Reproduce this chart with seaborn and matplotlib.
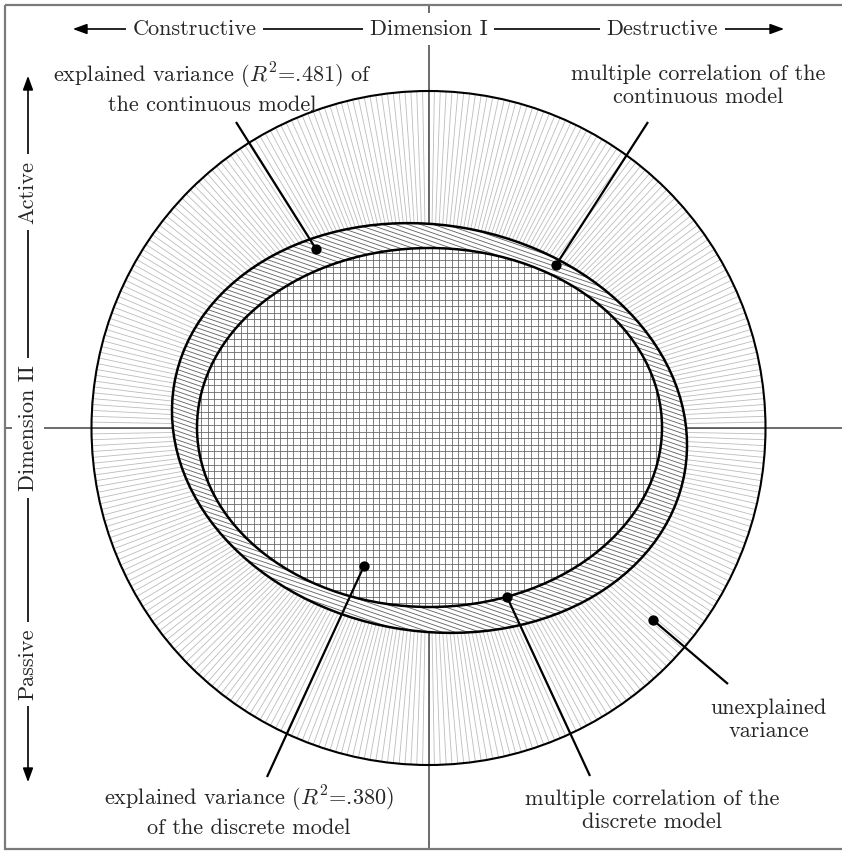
import numpy as np
import matplotlib
matplotlib.use("Agg")
import matplotlib.pyplot as plt
import seaborn as sns
from matplotlib.patches import Circle, Ellipse, Rectangle, FancyArrowPatch
from matplotlib.collections import LineCollection

# ---------------- data ----------------
r2_values = [0.481, 0.380]                     # continuous, discrete
circle_center = [428.5, 428.0]
circle_radius = 337.0
ell_centers = [[429.5, 428.0], [429.5, 427.5]]  # outer (continuous), inner (discrete)
ell_widths = [518.0, 465.0]
ell_heights = [406.0, 359.0]
ell_angles = [9.9, 0.0]
dot_x = [316.0, 556.0, 653.0, 364.0, 507.0]
dot_y = [249.0, 265.0, 620.0, 566.0, 597.0]
lead_x = [236.0, 648.0, 728.0, 267.0, 590.0]
lead_y = [122.0, 122.0, 684.0, 777.0, 776.0]
r2_txt = [f"{v:.3f}"[1:] for v in r2_values]
labels = [
    "explained variance ($R^2$=%s) of\nthe continuous model" % r2_txt[0],
    "multiple correlation of the\ncontinuous model",
    "unexplained\nvariance",
    "explained variance ($R^2$=%s)\nof the discrete model" % r2_txt[1],
    "multiple correlation of the\ndiscrete model",
]
label_x = [212.0, 698.0, 769.0, 249.0, 652.0]
label_y = [88.0, 86.0, 720.0, 811.0, 811.0]
dim1_labels = ["Constructive", "Dimension I", "Destructive"]
dim2_labels = ["Active", "Dimension II", "Passive"]

# ---------------- style ----------------
sns.set_theme(style="white")
plt.rcParams["font.family"] = ["cmr10", "DejaVu Serif"]
plt.rcParams["mathtext.fontset"] = "cm"
plt.rcParams["axes.unicode_minus"] = False
FS = 16

fig = plt.figure(figsize=(8.42, 8.51), dpi=100)
ax = fig.add_axes([0, 0, 1, 1])
ax.set_xlim(0, 842)
ax.set_ylim(851, 0)
ax.axis("off")

cx, cy = circle_center

# radial lines in outer circle
circ_clip = Circle((cx, cy), circle_radius, fc="none", ec="none")
ax.add_patch(circ_clip)
angs = np.deg2rad(np.arange(0, 360, 1.0))
segs = [[(cx, cy), (cx + (circle_radius + 5) * np.cos(a), cy + (circle_radius + 5) * np.sin(a))] for a in angs]
lc = LineCollection(segs, colors="#bcbcbc", linewidths=0.6, zorder=1)
ax.add_collection(lc)
lc.set_clip_path(circ_clip)

# axis cross lines
ax.plot([cx, cx], [5, 849], color="#444444", lw=1.1, zorder=2)
ax.plot([5, 842], [cy, cy], color="#444444", lw=1.1, zorder=2)

# outer circle edge
ax.add_patch(Circle((cx, cy), circle_radius, fc="none", ec="black", lw=1.5, zorder=3))

# outer ellipse (continuous model): white fill + diagonal hatching
e_out = Ellipse(ell_centers[0], ell_widths[0], ell_heights[0], angle=ell_angles[0],
                fc="white", ec="none", zorder=4)
ax.add_patch(e_out)
slope = np.tan(np.deg2rad(19))
hsegs = []
for c in np.arange(-400, 1100, 4.4):
    hsegs.append([(0, c), (842, c + slope * 842)])
hl = LineCollection(hsegs, colors="#5e5e5e", linewidths=0.6, zorder=5)
ax.add_collection(hl)
hl.set_clip_path(e_out)
ax.add_patch(Ellipse(ell_centers[0], ell_widths[0], ell_heights[0], angle=ell_angles[0],
                     fc="none", ec="black", lw=1.8, zorder=8))

# inner ellipse (discrete model): white fill + grid
e_in = Ellipse(ell_centers[1], ell_widths[1], ell_heights[1], angle=ell_angles[1],
               fc="white", ec="none", zorder=6)
ax.add_patch(e_in)
gsegs = []
step = 6.6
for gx in np.arange(cx - 300, cx + 300, step):
    gsegs.append([(gx, 100), (gx, 760)])
for gy in np.arange(cy - 300, cy + 300, step):
    gsegs.append([(100, gy), (760, gy)])
gl = LineCollection(gsegs, colors="#6a6a6a", linewidths=0.6, zorder=7)
ax.add_collection(gl)
gl.set_clip_path(e_in)
ax.add_patch(Ellipse(ell_centers[1], ell_widths[1], ell_heights[1], angle=ell_angles[1],
                     fc="none", ec="black", lw=1.8, zorder=8))

# leader lines and dots
for x0, y0, x1, y1 in zip(lead_x, lead_y, dot_x, dot_y):
    ax.plot([x0, x1], [y0, y1], color="black", lw=1.6, zorder=9, solid_capstyle="butt")
sns.scatterplot(x=dot_x, y=dot_y, color="black", s=55, ax=ax, zorder=10, legend=False,
                edgecolor="black", linewidth=0)

# annotation labels
for t, x, y in zip(labels, label_x, label_y):
    ax.text(x, y, t, ha="center", va="center", fontsize=FS, linespacing=1.25,
            multialignment="center", zorder=11)

# dimension axes (arrows with text gaps)
box = dict(boxstyle="square,pad=0.3", fc="white", ec="none")
ax.add_patch(FancyArrowPatch((70, 29), (787, 29), arrowstyle="<|-|>,head_length=0.6,head_width=0.22",
                             mutation_scale=14, lw=1.2, color="black", zorder=12))
for t, x in zip(dim1_labels, [cx - 234, cx, cx + 234]):
    ax.text(x, 29, t, ha="center", va="center", fontsize=FS, bbox=box, zorder=13)
ax.add_patch(FancyArrowPatch((28, 73), (28, 785), arrowstyle="<|-|>,head_length=0.6,head_width=0.22",
                             mutation_scale=14, lw=1.2, color="black", zorder=12))
for t, y in zip(dim2_labels, [cy - 236, cy, cy + 236]):
    ax.text(28, y, t, ha="center", va="center", fontsize=FS, rotation=90, bbox=box, zorder=13)

# frame
ax.add_patch(Rectangle((5, 5), 860, 844, fill=False, ec="#7a7a7a", lw=1.6, zorder=14))

fig.savefig("out.png", dpi=100)
